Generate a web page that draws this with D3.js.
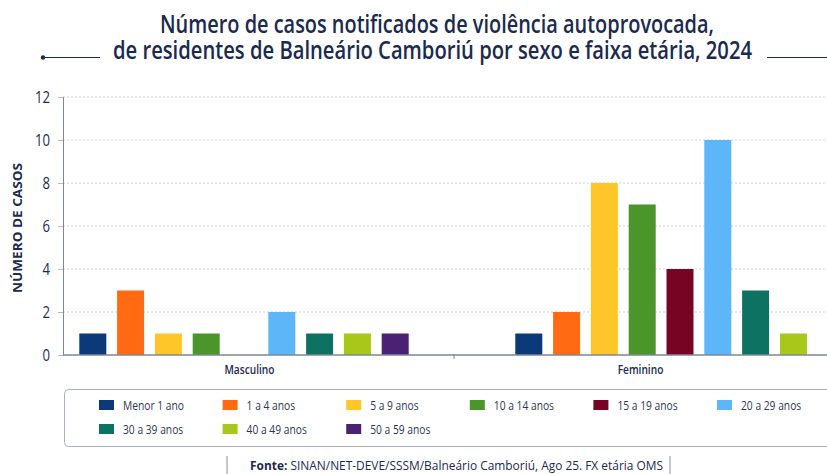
<!DOCTYPE html>
<html>
<head>
<meta charset="utf-8">
<script src="https://cdn.jsdelivr.net/npm/d3@7"></script>
<style>
  body { margin: 0; background: #fff; }
  svg { display: block; font-family: "Open Sans", Roboto, sans-serif; }
</style>
</head>
<body>
<svg width="827" height="474"></svg>
<script>
// data
var sexes = ["Masculino", "Feminino"]
var faixas = ["Menor 1 ano", "1 a 4 anos", "5 a 9 anos", "10 a 14 anos", "15 a 19 anos",
              "20 a 29 anos", "30 a 39 anos", "40 a 49 anos", "50 a 59 anos"]
var masculino = [1, 3, 1, 1, 0, 2, 1, 1, 1]
var feminino  = [1, 2, 8, 7, 4, 10, 3, 1, 0]
var yTicks = [0, 2, 4, 6, 8, 10, 12]
var cores = ["#0c3a78", "#ff6a13", "#ffc629", "#4b962b", "#760422",
             "#5cb6f7", "#0e7263", "#a9c61a", "#4b2173"]

var navy = "#1a2a50"
var svg = d3.select("svg")

var dims = { left: 63, bottom: 355, top: 97, right: 827 }

// squeeze a text horizontally (the original uses a condensed face)
function condense(sel, k) {
    sel.each(function() {
        var w = this.getComputedTextLength()
        d3.select(this).attr("textLength", w * k).attr("lengthAdjust", "spacingAndGlyphs")
    })
}

// title
svg.append("text").attr("x", 437).attr("y", 33).attr("text-anchor", "middle")
    .attr("fill", navy).style("font-size", "26px").style("font-weight", 600)
    .attr("textLength", 554).attr("lengthAdjust", "spacingAndGlyphs")
    .text("Número de casos notificados de violência autoprovocada,")
svg.append("text").attr("x", 432.5).attr("y", 59).attr("text-anchor", "middle")
    .attr("fill", navy).style("font-size", "26px").style("font-weight", 600)
    .attr("textLength", 639).attr("lengthAdjust", "spacingAndGlyphs")
    .text("de residentes de Balneário Camboriú por sexo e faixa etária, 2024")

// decorative lines either side of the title
svg.append("line").attr("x1", 43).attr("x2", 100).attr("y1", 57.5).attr("y2", 57.5)
    .attr("stroke", navy).attr("stroke-width", 1.2)
svg.append("circle").attr("cx", 43).attr("cy", 57.5).attr("r", 2.2).attr("fill", navy)
svg.append("line").attr("x1", 767).attr("x2", 827).attr("y1", 57.5).attr("y2", 57.5)
    .attr("stroke", navy).attr("stroke-width", 1.2)

// scales
var y = d3.scaleLinear().domain([0, 12]).range([dims.bottom, dims.top])

// category axis and the bar placement scale
var xAxisScale = d3.scaleBand().domain(sexes).range([dims.left, 845])
var x0 = d3.scaleBand().domain(sexes).range([26, 898])
var x1 = d3.scaleBand().domain(faixas).range([0, x0.bandwidth()])
    .paddingInner(0.286).paddingOuter(1.41)

// grid
svg.append("g").selectAll("line").data(yTicks.filter(d => d > 0)).enter()
    .append("line")
    .attr("x1", dims.left).attr("x2", dims.right)
    .attr("y1", d => y(d)).attr("y2", d => y(d))
    .attr("stroke", "#c9ced6").attr("stroke-dasharray", "2,2")

// y axis
var yAxis = svg.append("g").attr("transform", `translate(${dims.left},0)`)
    .call(d3.axisLeft(y).tickValues(yTicks).tickSize(5).tickPadding(8))
yAxis.select(".domain").attr("stroke", "#7d8797")
yAxis.selectAll(".tick line").attr("stroke", "#b8bec8")
yAxis.selectAll("text").attr("fill", navy).style("font-size", "16px")
    .style("font-family", "Open Sans, sans-serif")
    .call(condense, 0.82)

svg.append("text")
    .attr("transform", "translate(22,228) rotate(-90)")
    .attr("text-anchor", "middle").attr("fill", navy)
    .style("font-size", "12px").style("font-weight", "bold")
    .attr("textLength", 130).attr("lengthAdjust", "spacingAndGlyphs")
    .text("NÚMERO DE CASOS")

// bars
var rows = sexes.map((s, i) => ({ sexo: s, valores: i == 0 ? masculino : feminino }))
var groups = svg.append("g").selectAll("g").data(rows).enter()
    .append("g").attr("transform", d => `translate(${x0(d.sexo)},0)`)
groups.selectAll("rect")
    .data(d => d.valores.map((v, i) => ({ faixa: faixas[i], v: v, cor: cores[i] })))
    .enter().append("rect")
    .attr("x", d => x1(d.faixa))
    .attr("width", x1.bandwidth())
    .attr("y", d => y(d.v))
    .attr("height", d => y(0) - y(d.v))
    .attr("fill", d => d.cor)

// x axis
svg.append("line").attr("x1", dims.left).attr("x2", dims.right)
    .attr("y1", dims.bottom).attr("y2", dims.bottom)
    .attr("stroke", "#7d8797").attr("stroke-width", 1.5)
svg.append("line")
    .attr("x1", xAxisScale("Feminino")).attr("x2", xAxisScale("Feminino"))
    .attr("y1", dims.bottom).attr("y2", dims.bottom + 4)
    .attr("stroke", "#7d8797")
svg.append("g").selectAll("text").data(sexes).enter()
    .append("text")
    .attr("x", d => xAxisScale(d) + xAxisScale.bandwidth() / 2 - 9)
    .attr("y", 374).attr("text-anchor", "middle")
    .attr("fill", navy).style("font-size", "13px").style("font-weight", 600)
    .text(d => d)
    .call(condense, 0.78)

// legend
svg.append("rect").attr("x", 64.5).attr("y", 389.5).attr("width", 800).attr("height", 57)
    .attr("rx", 4).attr("fill", "#fff").attr("stroke", "#a9b0bc")

var leg = svg.append("g").selectAll("g").data(faixas).enter()
    .append("g")
    .attr("transform", (d, i) => `translate(${99 + (i % 6) * 123.6},${400 + Math.floor(i / 6) * 24})`)
leg.append("rect").attr("width", 15).attr("height", 10).attr("fill", (d, i) => cores[i])
var legText = leg.append("text").attr("x", 24).attr("y", 10)
    .attr("fill", "#2b3750").style("font-size", "12.5px")
    .text(d => d)
var kLeg = 61 / legText.node().getComputedTextLength()
legText.call(condense, kLeg)

// source
var fonte = svg.append("text").attr("x", 250).attr("y", 470)
    .attr("fill", navy).style("font-size", "12.5px")
    .attr("textLength", 413).attr("lengthAdjust", "spacingAndGlyphs")
fonte.append("tspan").style("font-weight", "bold").text("Fonte: ")
fonte.append("tspan").text("SINAN/NET-DEVE/SSSM/Balneário Camboriú, Ago 25. FX etária OMS")
svg.append("line").attr("x1", 227).attr("x2", 227).attr("y1", 456).attr("y2", 474)
    .attr("stroke", "#8a92a0")
svg.append("line").attr("x1", 670).attr("x2", 670).attr("y1", 456).attr("y2", 474)
    .attr("stroke", "#8a92a0")
</script>
</body>
</html>
